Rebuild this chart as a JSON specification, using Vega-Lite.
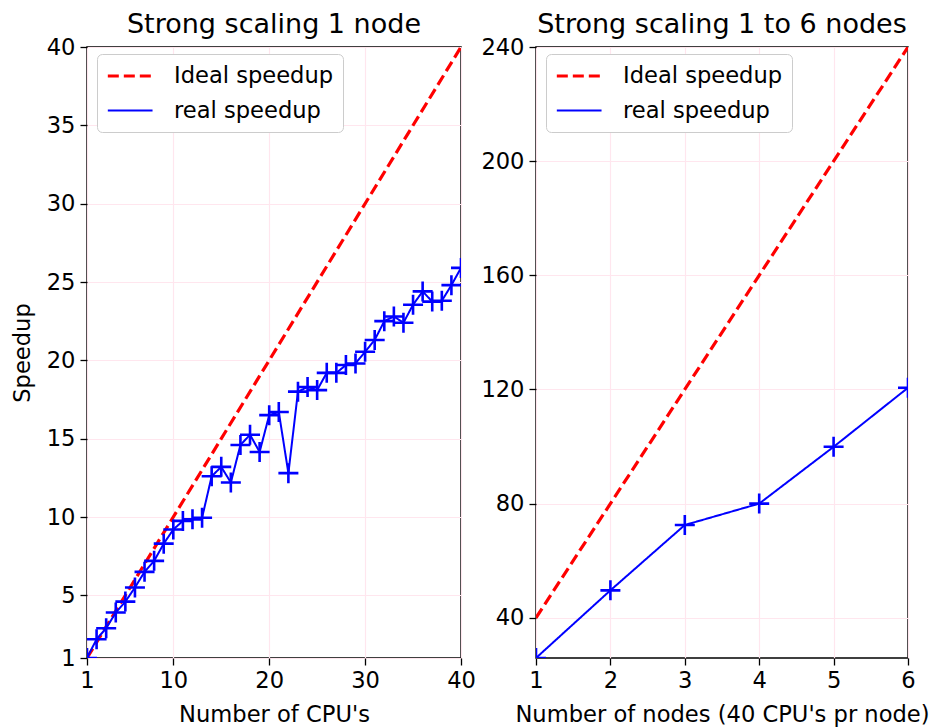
{
  "$schema": "https://vega.github.io/schema/vega-lite/v6.json",
  "padding": {"left": 10, "top": 10, "right": 5, "bottom": 0},
  "background": "white",
  "config": {
    "font": "DejaVu Sans",
    "view": {"stroke": "black", "strokeWidth": 1.5},
    "axis": {
      "domain": false,
      "tickColor": "black",
      "tickSize": 7,
      "tickWidth": 1.3,
      "labelFontSize": 22.6,
      "labelColor": "black",
      "labelFont": "DejaVu Sans",
      "labelFlush": false,
      "labelOverlap": false,
      "labelBound": false,
      "labelPadding": 5,
      "titleFontSize": 22.6,
      "titleFontWeight": "normal",
      "titleColor": "black",
      "titleFont": "DejaVu Sans",
      "gridColor": "#ffe6ee",
      "gridWidth": 1.2
    },
    "axisX": {"labelPadding": 4, "titlePadding": 12},
    "title": {"fontSize": 27, "fontWeight": "normal", "color": "black", "font": "DejaVu Sans", "offset": -3, "anchor": "middle"},
    "legend": {
      "orient": "none",
      "legendX": 10,
      "legendY": 7,
      "title": null,
      "fillColor": "white",
      "strokeColor": "#cccccc",
      "cornerRadius": 5,
      "padding": 9,
      "labelFontSize": 22.6,
      "labelColor": "black",
      "labelFont": "DejaVu Sans",
      "symbolType": "M-1,0L3,0",
      "symbolSize": 500,
      "labelOffset": 42,
      "rowPadding": 10
    }
  },
  "bounds": "flush",
  "spacing": 75,
  "datasets": {
    "left": [
      {"n": 1, "speedup": 1, "series": "Ideal speedup"},
      {"n": 40, "speedup": 40, "series": "Ideal speedup"},
      {"n": 1, "speedup": 1.0, "series": "real speedup"},
      {"n": 2, "speedup": 2.2, "series": "real speedup"},
      {"n": 3, "speedup": 2.9, "series": "real speedup"},
      {"n": 4, "speedup": 3.9, "series": "real speedup"},
      {"n": 5, "speedup": 4.6, "series": "real speedup"},
      {"n": 6, "speedup": 5.5, "series": "real speedup"},
      {"n": 7, "speedup": 6.5, "series": "real speedup"},
      {"n": 8, "speedup": 7.2, "series": "real speedup"},
      {"n": 9, "speedup": 8.3, "series": "real speedup"},
      {"n": 10, "speedup": 9.2, "series": "real speedup"},
      {"n": 11, "speedup": 9.75, "series": "real speedup"},
      {"n": 12, "speedup": 9.85, "series": "real speedup"},
      {"n": 13, "speedup": 9.95, "series": "real speedup"},
      {"n": 14, "speedup": 12.6, "series": "real speedup"},
      {"n": 15, "speedup": 13.2, "series": "real speedup"},
      {"n": 16, "speedup": 12.2, "series": "real speedup"},
      {"n": 17, "speedup": 14.6, "series": "real speedup"},
      {"n": 18, "speedup": 15.25, "series": "real speedup"},
      {"n": 19, "speedup": 14.15, "series": "real speedup"},
      {"n": 20, "speedup": 16.5, "series": "real speedup"},
      {"n": 21, "speedup": 16.7, "series": "real speedup"},
      {"n": 22, "speedup": 12.8, "series": "real speedup"},
      {"n": 23, "speedup": 18.0, "series": "real speedup"},
      {"n": 24, "speedup": 18.3, "series": "real speedup"},
      {"n": 25, "speedup": 18.1, "series": "real speedup"},
      {"n": 26, "speedup": 19.2, "series": "real speedup"},
      {"n": 27, "speedup": 19.2, "series": "real speedup"},
      {"n": 28, "speedup": 19.7, "series": "real speedup"},
      {"n": 29, "speedup": 19.8, "series": "real speedup"},
      {"n": 30, "speedup": 20.55, "series": "real speedup"},
      {"n": 31, "speedup": 21.3, "series": "real speedup"},
      {"n": 32, "speedup": 22.5, "series": "real speedup"},
      {"n": 33, "speedup": 22.8, "series": "real speedup"},
      {"n": 34, "speedup": 22.4, "series": "real speedup"},
      {"n": 35, "speedup": 23.55, "series": "real speedup"},
      {"n": 36, "speedup": 24.4, "series": "real speedup"},
      {"n": 37, "speedup": 23.75, "series": "real speedup"},
      {"n": 38, "speedup": 23.8, "series": "real speedup"},
      {"n": 39, "speedup": 24.8, "series": "real speedup"},
      {"n": 40, "speedup": 25.9, "series": "real speedup"}
    ],
    "right": [
      {"nodes": 1, "speedup": 40, "series": "Ideal speedup"},
      {"nodes": 2, "speedup": 80, "series": "Ideal speedup"},
      {"nodes": 3, "speedup": 120, "series": "Ideal speedup"},
      {"nodes": 4, "speedup": 160, "series": "Ideal speedup"},
      {"nodes": 5, "speedup": 200, "series": "Ideal speedup"},
      {"nodes": 6, "speedup": 240, "series": "Ideal speedup"},
      {"nodes": 1, "speedup": 25.9, "series": "real speedup"},
      {"nodes": 2, "speedup": 49.6, "series": "real speedup"},
      {"nodes": 3, "speedup": 72.5, "series": "real speedup"},
      {"nodes": 4, "speedup": 80.0, "series": "real speedup"},
      {"nodes": 5, "speedup": 99.9, "series": "real speedup"},
      {"nodes": 6, "speedup": 120.6, "series": "real speedup"}
    ]
  },
  "hconcat": [
    {
      "title": "Strong scaling 1 node",
      "width": 374,
      "height": 611,
      "data": {"name": "left"},
      "layer": [
        {
          "mark": {"type": "line", "clip": true},
          "encoding": {
            "x": {"field": "n", "type": "quantitative", "scale": {"domain": [1, 40], "nice": false, "zero": false},
                  "axis": {"values": [1, 10, 20, 30, 40], "format": "d", "title": "Number of CPU's"}},
            "y": {"field": "speedup", "type": "quantitative", "scale": {"domain": [1, 40], "nice": false, "zero": false},
                  "axis": {"values": [1, 5, 10, 15, 20, 25, 30, 35, 40], "format": "d", "title": "Speedup", "titlePadding": 12}},
            "color": {"field": "series", "type": "nominal", "scale": {"domain": ["Ideal speedup", "real speedup"], "range": ["#ff0000", "#0000ff"]}},
            "strokeDash": {"field": "series", "type": "nominal", "scale": {"domain": ["Ideal speedup", "real speedup"], "range": [[11, 5], [1, 0]]}},
            "strokeWidth": {"field": "series", "type": "nominal", "scale": {"domain": ["Ideal speedup", "real speedup"], "range": [3.2, 2]}}
          }
        },
        {
          "transform": [{"filter": "datum.series === 'real speedup'"}],
          "mark": {"type": "point", "clip": true, "shape": "M-1,0L1,0M0,-1L0,1", "filled": false, "color": "#0000ff", "strokeWidth": 2.6, "size": 400, "opacity": 1},
          "encoding": {
            "x": {"field": "n", "type": "quantitative"},
            "y": {"field": "speedup", "type": "quantitative"}
          }
        }
      ]
    },
    {
      "title": "Strong scaling 1 to 6 nodes",
      "width": 372,
      "height": 611,
      "data": {"name": "right"},
      "layer": [
        {
          "mark": {"type": "line", "clip": true},
          "encoding": {
            "x": {"field": "nodes", "type": "quantitative", "scale": {"domain": [1, 6], "nice": false, "zero": false},
                  "axis": {"values": [1, 2, 3, 4, 5, 6], "format": "d", "title": "Number of nodes (40 CPU's pr node)"}},
            "y": {"field": "speedup", "type": "quantitative", "scale": {"domain": [25.9, 240], "nice": false, "zero": false},
                  "axis": {"values": [40, 80, 120, 160, 200, 240], "format": "d", "title": null}},
            "color": {"field": "series", "type": "nominal", "scale": {"domain": ["Ideal speedup", "real speedup"], "range": ["#ff0000", "#0000ff"]}},
            "strokeDash": {"field": "series", "type": "nominal", "scale": {"domain": ["Ideal speedup", "real speedup"], "range": [[11, 5], [1, 0]]}},
            "strokeWidth": {"field": "series", "type": "nominal", "scale": {"domain": ["Ideal speedup", "real speedup"], "range": [3.2, 2]}}
          }
        },
        {
          "transform": [{"filter": "datum.series === 'real speedup'"}],
          "mark": {"type": "point", "clip": true, "shape": "M-1,0L1,0M0,-1L0,1", "filled": false, "color": "#0000ff", "strokeWidth": 2.6, "size": 400, "opacity": 1},
          "encoding": {
            "x": {"field": "nodes", "type": "quantitative"},
            "y": {"field": "speedup", "type": "quantitative"}
          }
        }
      ]
    }
  ],
  "resolve": {
    "scale": {"x": "independent", "y": "independent", "color": "independent", "strokeDash": "independent", "strokeWidth": "independent"},
    "legend": {"color": "independent", "strokeDash": "independent", "strokeWidth": "independent"}
  }
}
